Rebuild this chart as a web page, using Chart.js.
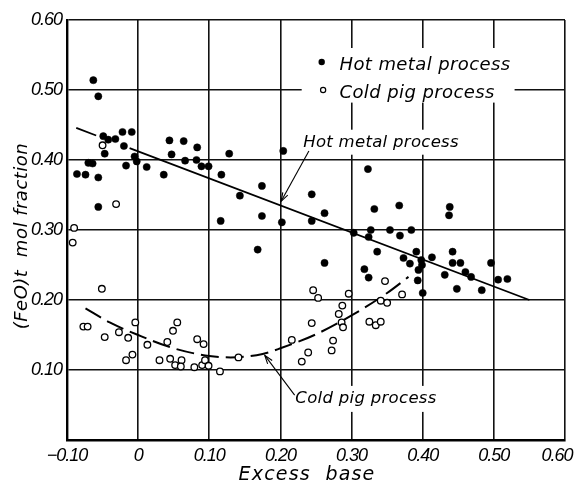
<!DOCTYPE html>
<html><head><meta charset="utf-8">
<script src="https://cdn.jsdelivr.net/npm/chart.js@4/dist/chart.umd.min.js"></script>
<style>html,body{margin:0;padding:0;background:#fff;}canvas{display:block}</style>
</head><body>
<canvas id="c" width="574" height="486"></canvas>
<script>
// ---- data ----
const hotMetalX = [-0.063,-0.056,-0.086,-0.074,-0.070,-0.064,-0.056,-0.056,-0.049,-0.047,-0.042,-0.032,-0.022,-0.009,-0.020,-0.017,-0.005,-0.002,0.012,0.036,0.044,0.047,0.064,0.066,0.083,0.082,0.089,0.099,0.117,0.128,0.143,0.116,0.174,0.174,0.202,0.204,0.168,0.323,0.244,0.262,0.244,0.332,0.367,0.438,0.437,0.303,0.327,0.324,0.354,0.368,0.384,0.262,0.336,0.391,0.373,0.382,0.398,0.399,0.394,0.318,0.324,0.393,0.400,0.413,0.442,0.442,0.453,0.431,0.460,0.468,0.448,0.483,0.496,0.506,0.519];
const hotMetalY = [0.514,0.491,0.380,0.379,0.396,0.395,0.375,0.333,0.434,0.409,0.429,0.430,0.440,0.440,0.420,0.392,0.405,0.398,0.390,0.379,0.428,0.408,0.427,0.399,0.418,0.400,0.391,0.391,0.379,0.409,0.349,0.313,0.363,0.320,0.311,0.413,0.272,0.387,0.351,0.324,0.313,0.330,0.335,0.333,0.321,0.296,0.300,0.290,0.300,0.292,0.300,0.253,0.269,0.269,0.260,0.252,0.257,0.250,0.243,0.244,0.232,0.228,0.210,0.261,0.269,0.253,0.253,0.236,0.240,0.233,0.216,0.214,0.253,0.229,0.230];
const coldPigX = [-0.050,-0.031,-0.090,-0.092,-0.051,-0.077,-0.071,-0.047,-0.027,-0.014,-0.004,-0.008,-0.017,0.013,0.030,0.041,0.045,0.049,0.055,0.061,0.052,0.060,0.079,0.083,0.092,0.090,0.094,0.099,0.115,0.141,0.216,0.230,0.239,0.272,0.274,0.244,0.286,0.288,0.282,0.287,0.325,0.334,0.341,0.246,0.253,0.296,0.347,0.371,0.341,0.350];
const coldPigY = [0.421,0.337,0.303,0.282,0.216,0.162,0.162,0.147,0.154,0.146,0.168,0.122,0.114,0.136,0.114,0.140,0.116,0.156,0.168,0.114,0.107,0.105,0.104,0.144,0.137,0.107,0.114,0.106,0.098,0.118,0.143,0.112,0.125,0.128,0.142,0.167,0.168,0.161,0.180,0.192,0.169,0.164,0.169,0.214,0.203,0.209,0.227,0.208,0.199,0.196];
const hotFitX = [-0.087,-0.059,-0.035,-0.012,0.55];
const hotFitY = [0.446,0.435,null,0.417,0.200];
const coldFitX = [-0.074,-0.04,0.0,0.05,0.10,0.13,0.175,0.20,0.25,0.30,0.35,0.38];
const coldFitY = [0.188,0.168,0.150,0.131,0.120,0.118,0.123,0.131,0.151,0.178,0.210,0.233];
const xTickLabels = ['\u22120.10','0','0.10','0.20','0.30','0.40','0.50','0.60\u00a0\u00a0\u00a0\u00a0'];
const yTickLabels = ['','0.10','0.20','0.30','0.40','0.50','0.60'];
const seriesNames = ['Hot metal process','Cold pig process'];
const xTitle = 'Excess  base';
const yTitle = '(FeO)t  mol fraction';

const zip = (xs, ys) => xs.map((x, i) => ({x, y: ys[i]}));
const tickFont = {family:'"Liberation Sans"', size:18, style:'italic'};
const legendFont = 'italic 18px "DejaVu Sans"';
const noteFont = 'italic 16.5px "DejaVu Sans"';

function arrow(ctx, x1, y1, x2, y2) {
  ctx.beginPath(); ctx.moveTo(x1, y1); ctx.lineTo(x2, y2); ctx.stroke();
  const a = Math.atan2(y2 - y1, x2 - x1), L = 9, s = 0.32;
  ctx.beginPath();
  ctx.moveTo(x2 - L*Math.cos(a - s), y2 - L*Math.sin(a - s));
  ctx.lineTo(x2, y2);
  ctx.lineTo(x2 - L*Math.cos(a + s), y2 - L*Math.sin(a + s));
  ctx.stroke();
}

const notes = {
  id: 'notes',
  beforeDraw(chart) { chart.ctx.letterSpacing = '-1px'; },
  beforeDatasetsDraw(chart) {
    const {ctx, scales:{x, y}} = chart;
    ctx.save();
    ctx.fillStyle = '#fff';
    ctx.font = legendFont; ctx.letterSpacing = '0.4px';
    const lx = x.getPixelForValue(0.258), tx = x.getPixelForValue(0.283);
    const w = Math.max(ctx.measureText(seriesNames[0]).width, ctx.measureText(seriesNames[1]).width);
    ctx.fillRect(lx - 20, y.getPixelForValue(0.56), tx - lx + w + 24, y.getPixelForValue(0.482) - y.getPixelForValue(0.56));
    ctx.font = noteFont; ctx.letterSpacing = '0.3px';
    const hx = x.getPixelForValue(0.232), hy = y.getPixelForValue(0.419);
    ctx.fillRect(hx - 3, hy - 17, ctx.measureText(seriesNames[0]).width + 6, 25);
    const cx = x.getPixelForValue(0.221), cy = y.getPixelForValue(0.053);
    ctx.fillRect(cx - 3, cy - 17, ctx.measureText(seriesNames[1]).width + 6, 26);
    ctx.restore();
  },
  afterDatasetsDraw(chart) {
    const {ctx, scales:{x, y}} = chart;
    ctx.save();
    ctx.fillStyle = '#000'; ctx.strokeStyle = '#000';
    ctx.textBaseline = 'alphabetic'; ctx.textAlign = 'left';
    // legend
    ctx.beginPath(); ctx.arc(x.getPixelForValue(0.258), y.getPixelForValue(0.540), 3.2, 0, Math.PI*2); ctx.fill();
    ctx.lineWidth = 1.2;
    ctx.beginPath(); ctx.arc(x.getPixelForValue(0.260), y.getPixelForValue(0.500), 2.6, 0, Math.PI*2); ctx.stroke();
    ctx.font = legendFont; ctx.letterSpacing = '0.4px';
    ctx.fillText(seriesNames[0], x.getPixelForValue(0.283), y.getPixelForValue(0.529));
    ctx.fillText(seriesNames[1], x.getPixelForValue(0.283), y.getPixelForValue(0.489));
    // curve labels
    ctx.font = noteFont; ctx.letterSpacing = '0.3px';
    ctx.fillText(seriesNames[0], x.getPixelForValue(0.232), y.getPixelForValue(0.419));
    ctx.fillText(seriesNames[1], x.getPixelForValue(0.221), y.getPixelForValue(0.053));
    // arrows
    ctx.lineWidth = 1.1;
    arrow(ctx, x.getPixelForValue(0.240), y.getPixelForValue(0.413), x.getPixelForValue(0.201), y.getPixelForValue(0.341));
    arrow(ctx, x.getPixelForValue(0.220), y.getPixelForValue(0.064), x.getPixelForValue(0.178), y.getPixelForValue(0.121));
    ctx.restore();
  },
  afterDraw(chart) {
    const {ctx} = chart;
    ctx.save();
    ctx.fillStyle = '#000'; ctx.textAlign = 'center'; ctx.textBaseline = 'middle';
    ctx.font = 'italic 19px "DejaVu Sans"'; ctx.letterSpacing = '1.2px';
    ctx.fillText(xTitle, 307, 475);
    ctx.translate(22, 236); ctx.rotate(-Math.PI / 2);
    ctx.font = 'italic 18px "DejaVu Sans"'; ctx.letterSpacing = '0.5px';
    ctx.fillText(yTitle, 0, 0);
    ctx.restore();
  }
};

new Chart(document.getElementById('c'), {
  type: 'scatter',
  data: {
    datasets: [
      {label: seriesNames[0], data: zip(hotMetalX, hotMetalY), pointRadius: 3.6, pointBackgroundColor: '#000', pointBorderColor: '#000', pointBorderWidth: 0.5, order: 0},
      {label: seriesNames[1], data: zip(coldPigX, coldPigY), pointRadius: 3.3, pointBackgroundColor: '#fff', pointBorderColor: '#000', pointBorderWidth: 1.3, order: 0},
      {type: 'line', label: 'hot fit', data: zip(hotFitX, hotFitY), borderColor: '#000', borderWidth: 1.8, pointRadius: 0, spanGaps: false, tension: 0, order: 1},
      {type: 'line', label: 'cold fit', data: zip(coldFitX, coldFitY), borderColor: '#000', borderWidth: 2, borderDash: [18, 7], pointRadius: 0, cubicInterpolationMode: 'monotone', order: 1}
    ]
  },
  options: {
    responsive: false, animation: false, devicePixelRatio: 1,
    layout: {padding: {top: 20, right: 9, left: 0, bottom: 0}},
    plugins: {legend: {display: false}, tooltip: {enabled: false}},
    scales: {
      x: {
        type: 'linear', min: -0.1, max: 0.6,
        ticks: {stepSize: 0.1, autoSkip: false, maxRotation: 0, color: '#000', font: tickFont, padding: 5,
          callback: v => xTickLabels[Math.round((v + 0.1) * 10)]},
        grid: {color: '#111', lineWidth: 1.6, drawTicks: false},
        border: {color: '#000', width: 2.4},
        title: {display: false},
        afterFit(s) { s.height = 46; s.paddingLeft = 0; s.paddingRight = 0; }
      },
      y: {
        type: 'linear', min: 0, max: 0.6,
        ticks: {stepSize: 0.1, autoSkip: false, color: '#000', font: tickFont, padding: 5,
          callback: v => yTickLabels[Math.round(v * 10)]},
        grid: {color: '#111', lineWidth: 1.6, drawTicks: false},
        border: {color: '#000', width: 2.4},
        title: {display: false},
        afterFit(s) { s.width = 67; s.paddingTop = 0; s.paddingBottom = 0; }
      }
    }
  },
  plugins: [notes]
});
</script>
</body></html>
